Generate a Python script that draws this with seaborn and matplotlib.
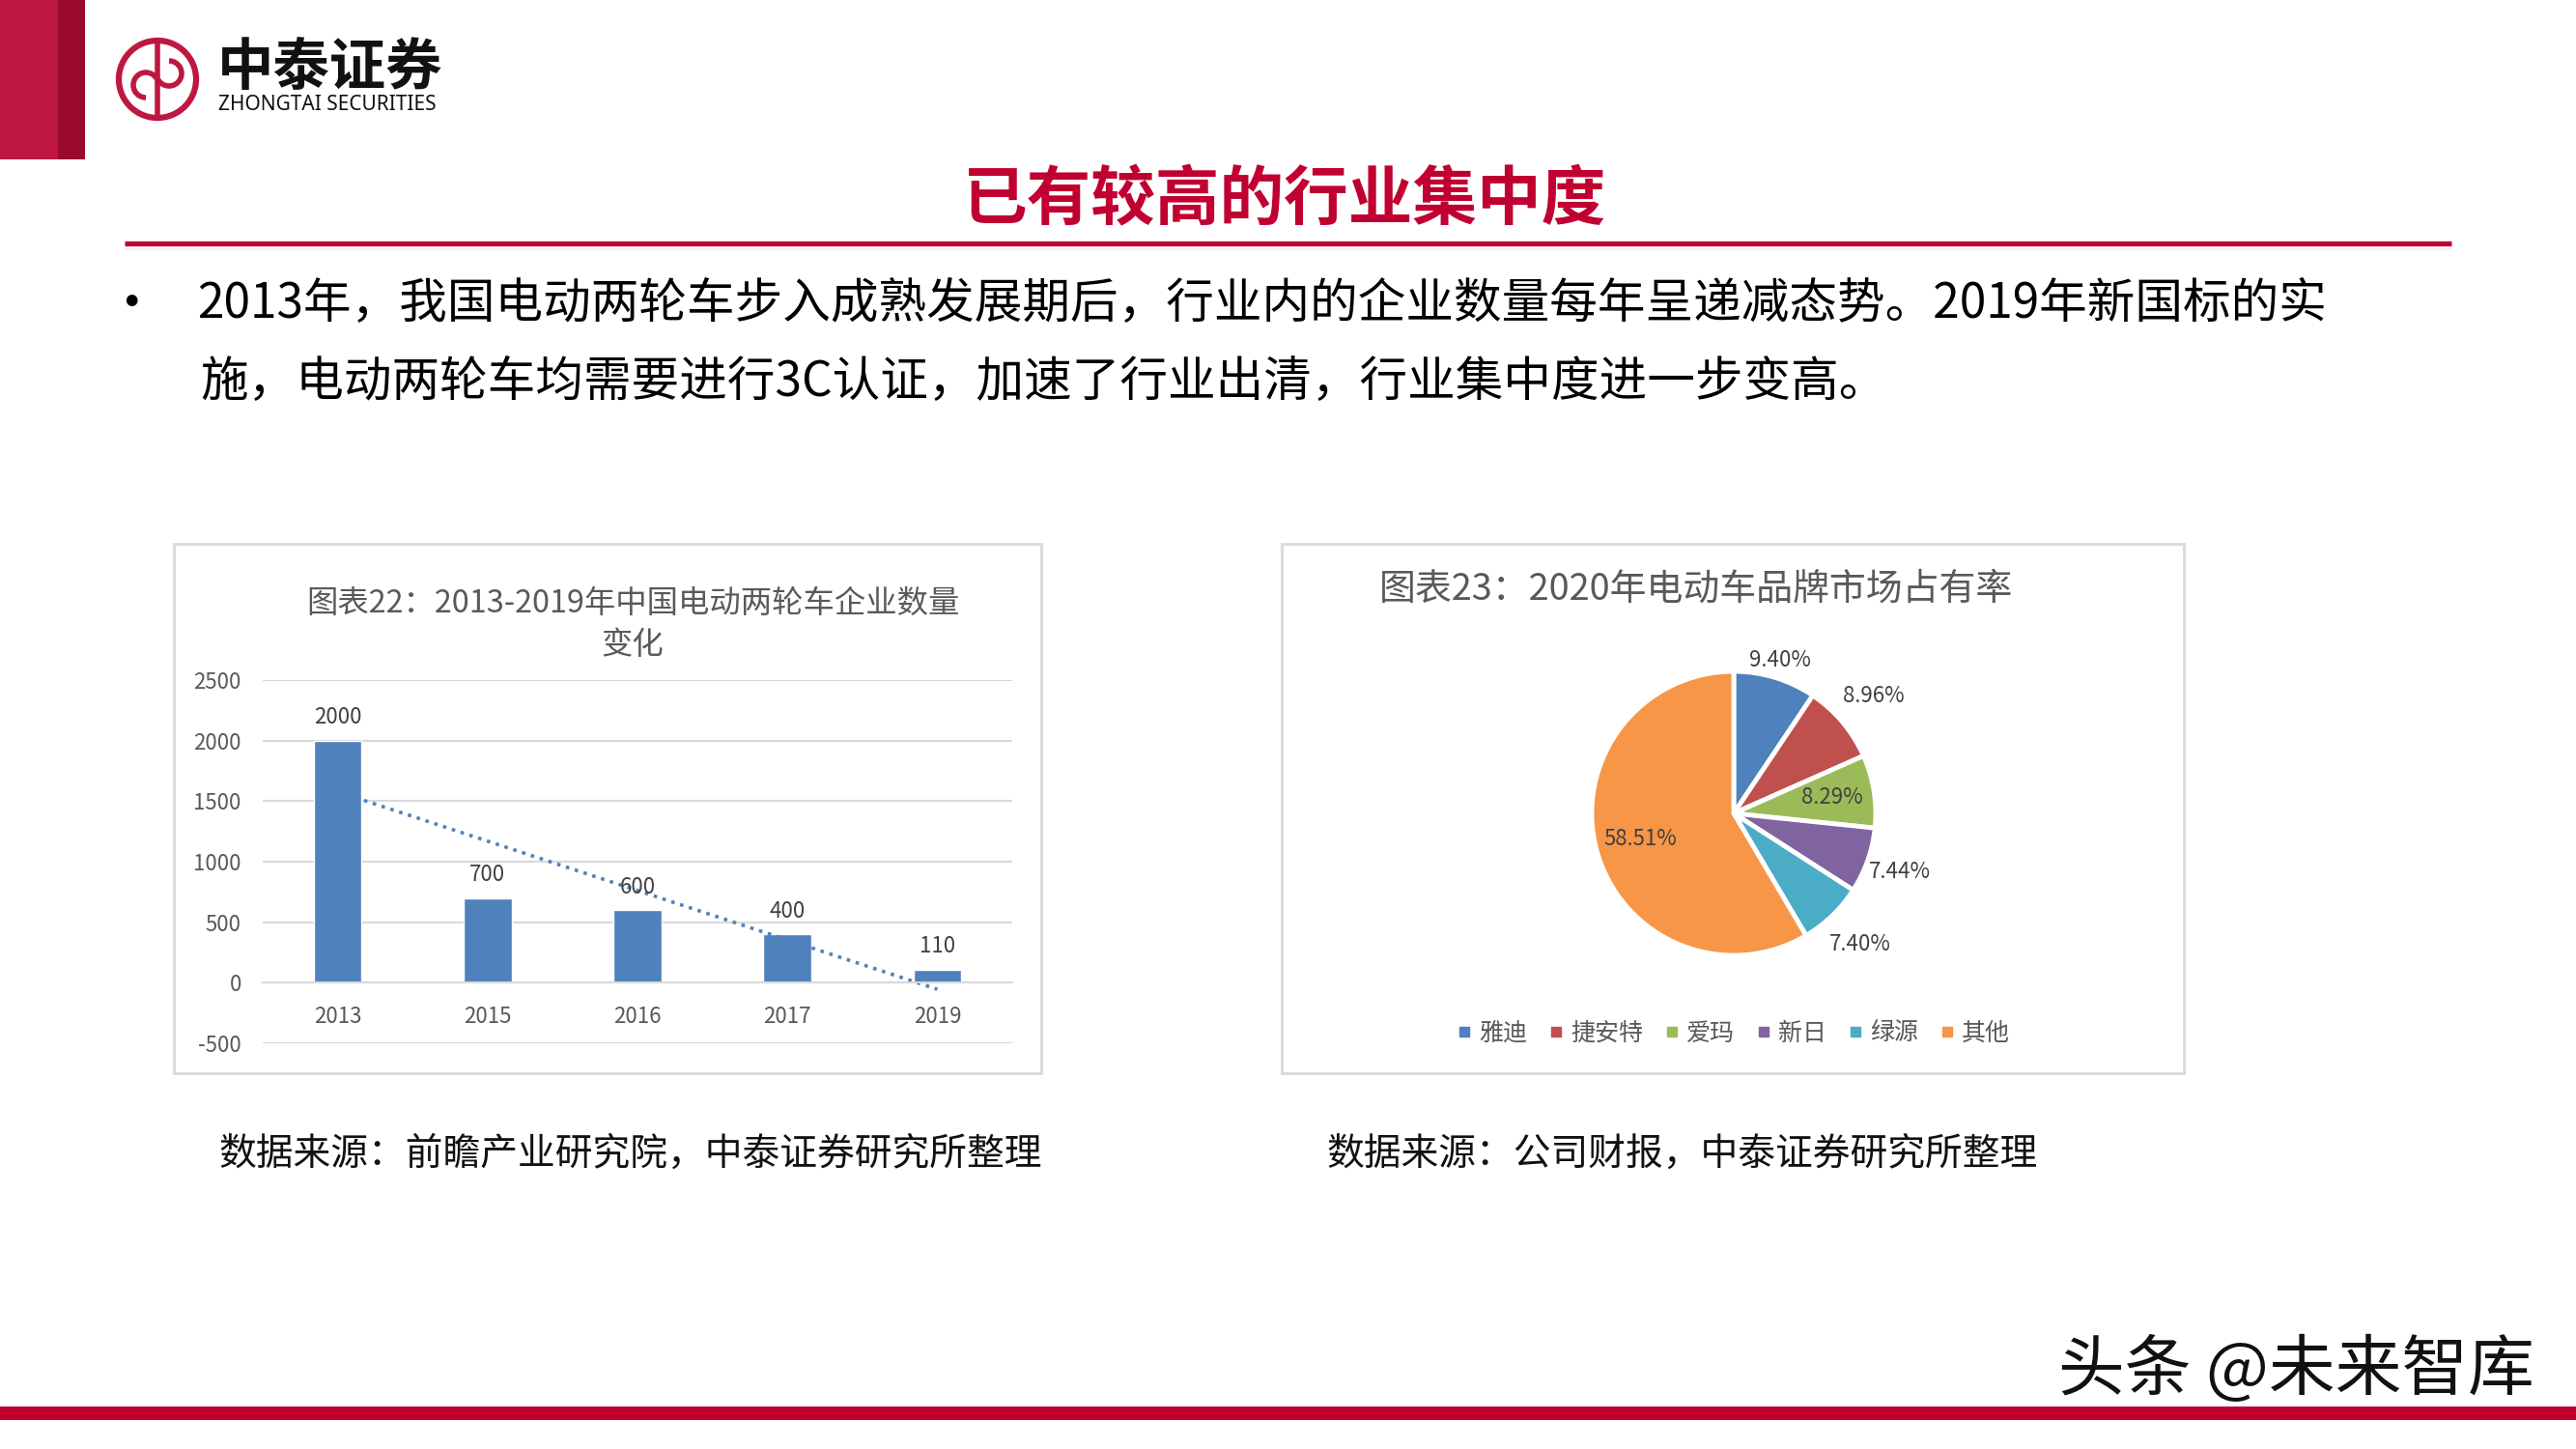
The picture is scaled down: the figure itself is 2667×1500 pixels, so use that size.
import numpy as np
import pandas as pd
import matplotlib.pyplot as plt
import seaborn as sns
from matplotlib.patches import Rectangle, Circle, Arc
from matplotlib.lines import Line2D

# data: chart 22 - number of e-bike makers
years = ['2013', '2015', '2016', '2017', '2019']
companies = [2000, 700, 600, 400, 110]

# data: chart 23 - 2020 brand market share (%)
brands = ['雅迪', '捷安特', '爱玛', '新日', '绿源', '其他']
shares = [9.40, 8.96, 8.29, 7.44, 7.40, 58.51]
share_labels = ['9.40%', '8.96%', '8.29%', '7.44%', '7.40%', '58.51%']

pie_colors = ['#4F81BD', '#C0504D', '#9BBB59', '#8064A2', '#4BACC6', '#F79646']
label_radius = [1.13, 1.29, 0.70, 1.24, 1.28, 0.68]

sns.set_theme(style='white')
plt.rcParams['font.family'] = ['Noto Sans CJK SC', 'DejaVu Sans']
plt.rcParams['axes.unicode_minus'] = False

W, H = 2667, 1500
fig = plt.figure(figsize=(W / 100, H / 100), dpi=100)
fig.patch.set_facecolor('white')

# background layer in pixel coordinates
bg = fig.add_axes([0, 0, 1, 1])
bg.set_xlim(0, W)
bg.set_ylim(H, 0)
bg.axis('off')

red = '#C00030'
gray_txt = '#595959'

# top-left red block
bg.add_patch(Rectangle((0, 0), 60, 165, color='#BE1840', lw=0))
bg.add_patch(Rectangle((60, 0), 28, 165, color='#9A0A2C', lw=0))

# logo
bg.add_patch(Circle((163, 82), 40, fill=False, ec='#BE1840', lw=4.5))
bg.plot([163, 163], [44, 120], color='#BE1840', lw=4)
bg.add_patch(Arc((151, 88), 26, 26, theta1=90, theta2=330, ec='#BE1840', lw=4))
bg.add_patch(Arc((175, 76), 26, 26, theta1=270, theta2=150, ec='#BE1840', lw=4))
bg.text(225, 71, '中泰证券', fontsize=42, fontweight='heavy', color='#111111', va='center', ha='left')
bg.text(226, 108, 'ZHONGTAI SECURITIES', fontsize=15, fontweight='bold', color='#111111',
        va='center', ha='left', family=['Noto Sans', 'DejaVu Sans'])

# page title and rule
bg.text(1330, 208, '已有较高的行业集中度', fontsize=48, fontweight='bold', color=red, ha='center', va='center')
bg.plot([129, 2538], [252, 252], color=red, lw=3.8, solid_capstyle='butt')
bg.plot([129, 2538], [258, 258], color='#EEEEEE', lw=1.2)

# bullet text
bg.text(136, 316, '•', fontsize=40, color='black', ha='center', va='center')
bg.text(204, 315, '2013年，我国电动两轮车步入成熟发展期后，行业内的企业数量每年呈递减态势。2019年新国标的实',
        fontsize=35.7, color='black', ha='left', va='center')
bg.text(207, 395, '施，电动两轮车均需要进行3C认证，加速了行业出清，行业集中度进一步变高。',
        fontsize=35.7, color='black', ha='left', va='center')

# chart frames
bg.add_patch(Rectangle((180, 563), 898, 548, fill=False, ec='#D9D9D9', lw=2))
bg.add_patch(Rectangle((1327, 563), 934, 548, fill=False, ec='#D9D9D9', lw=2))

# chart titles
bg.text(655, 625, '图表22：2013-2019年中国电动两轮车企业数量', fontsize=23.3, color=gray_txt, ha='center', va='center')
bg.text(655, 668, '变化', fontsize=23.3, color=gray_txt, ha='center', va='center')
bg.text(1756, 610, '图表23：2020年电动车品牌市场占有率', fontsize=27.3, color=gray_txt, ha='center', va='center')

# sources
bg.text(226, 1195, '数据来源：前瞻产业研究院，中泰证券研究所整理', fontsize=27.9, color='#111111', ha='left', va='center')
bg.text(1373, 1195, '数据来源：公司财报，中泰证券研究所整理', fontsize=27.9, color='#111111', ha='left', va='center')

# bottom bar and watermark
bg.add_patch(Rectangle((0, 1456), W, 14, color='#C0002A', lw=0))
bg.text(2377, 1420, '头条 @未来智库', fontsize=49.5, color='#111111', ha='center', va='center')

# ---- bar chart ----
ax = fig.add_axes([272 / W, 1 - 1080 / H, 776 / W, 376 / H])
df = pd.DataFrame({'year': years, 'count': companies})
sns.barplot(data=df, x='year', y='count', color='#4F81BD', saturation=1, width=0.32, ax=ax)
sns.regplot(x=np.arange(len(years)), y=companies, scatter=False, ci=None, truncate=True, ax=ax,
            line_kws=dict(color='#4F81BD', ls=':', lw=2.6))
ax.bar_label(ax.containers[0], labels=[str(v) for v in companies], padding=9, fontsize=16, color='#404040')
ax.set_xlim(-0.5, len(years) - 0.5)
ax.set_ylim(-500, 2500)
ax.set_yticks(range(-500, 2501, 500))
ax.yaxis.grid(True, color='#D9D9D9', lw=1.5)
ax.set_axisbelow(True)
for s in ['top', 'right', 'left']:
    ax.spines[s].set_visible(False)
ax.spines['bottom'].set_position(('data', 0))
ax.spines['bottom'].set_color('#D9D9D9')
ax.spines['bottom'].set_linewidth(1.5)
ax.tick_params(axis='y', length=0, pad=16, labelsize=16, labelcolor=gray_txt)
ax.tick_params(axis='x', length=0, pad=17, labelsize=16, labelcolor=gray_txt)
ax.set_xlabel('')
ax.set_ylabel('')
ax.patch.set_alpha(0)

# ---- pie chart ----
R = 147
ext = 1.6
cx, cy = 1795, 842
pax = fig.add_axes([(cx - ext * R) / W, 1 - (cy + ext * R) / H, 2 * ext * R / W, 2 * ext * R / H])
wedges, _ = pax.pie(shares, colors=pie_colors, startangle=90, counterclock=False,
                    wedgeprops=dict(edgecolor='white', linewidth=3.5))
for w, lab, rr in zip(wedges, share_labels, label_radius):
    ang = np.deg2rad((w.theta1 + w.theta2) / 2)
    pax.text(rr * np.cos(ang), rr * np.sin(ang), lab, fontsize=16, color='#404040', ha='center', va='center')
pax.set_xlim(-ext, ext)
pax.set_ylim(-ext, ext)
pax.set_aspect('equal')
pax.axis('off')

handles = [Line2D([], [], marker='s', ls='', color=c, markersize=7) for c in pie_colors]
fig.legend(handles, brands, loc='center', bbox_to_anchor=(1795 / W, 1 - 1070 / H), ncol=6,
           frameon=False, fontsize=18, handlelength=0.6, handletextpad=0.3, columnspacing=0.9,
           labelcolor=gray_txt)

fig.savefig('out.png', dpi=100, facecolor='white')
